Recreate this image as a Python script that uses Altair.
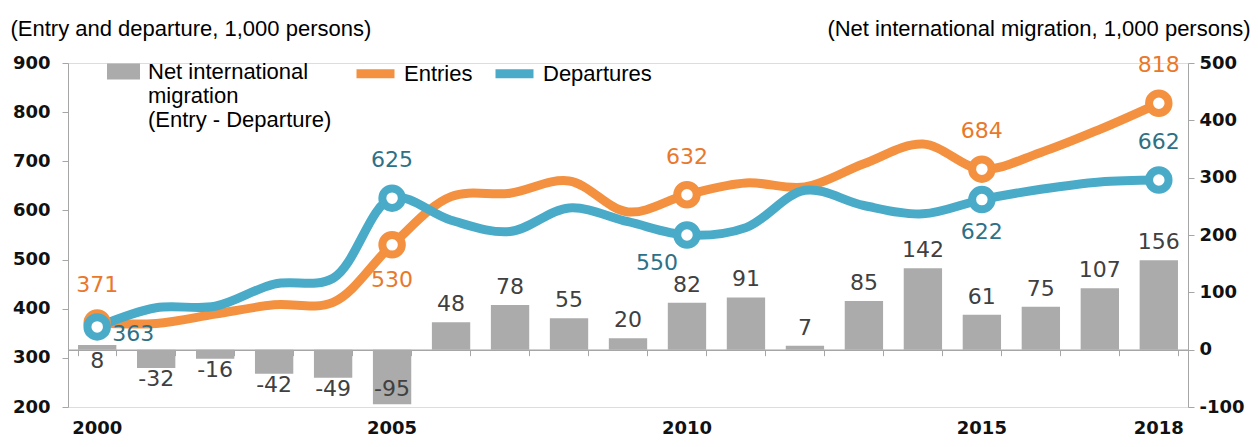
import altair as alt
import pandas as pd

# ---- data ----
years = list(range(2000, 2019))
net = [8, -32, -16, -42, -49, -95, 48, 78, 55, 20, 82, 91, 7, 85, 142, 61, 75, 107, 156]
entries = [371, 370, 389, 408, 413, 530, 628, 635, 660, 597, 632, 656, 648, 695, 735, 684, 718, 765, 818]
departures = [363, 402, 405, 450, 462, 625, 580, 557, 605, 577, 550, 565, 641, 610, 593, 622, 643, 658, 662]
marked_years = [2000, 2005, 2010, 2015, 2018]
axis_years = [2000, 2005, 2010, 2015, 2018]
series_names = ["Entries", "Departures"]
net_name = "Net international\nmigration\n(Entry - Departure)"

W, H = 1120, 344
ORANGE = "#F39140"
BLUE = "#4AABC8"
ORANGE_TXT = "#E9782A"
BLUE_TXT = "#2E7086"
GRAY_BAR = "#ABABAB"
AXIS_GRAY = "#A6A6A6"
TXT_FONT = "Liberation Sans"
NUM_FONT = "DejaVu Sans"

net_df = pd.DataFrame({"year": years, "net": net, "name": net_name,
                       "label": [str(v) for v in net]})
net_df["below"] = [(n < 0) or (y == 2000) for n, y in zip(net, years)]

long_rows = []
for s, vals in zip(series_names, [entries, departures]):
    for y, v in zip(years, vals):
        long_rows.append({"year": y, "series": s, "value": v, "label": str(v)})
line_df = pd.DataFrame(long_rows)

xscale = alt.Scale(paddingInner=0.35, paddingOuter=0.17)

# axis line drawn at the zero of the net-migration scale
zero_axis = alt.Axis(orient="bottom", offset=-(H - H * 500 / 600), title=None, labels=False,
                     ticks=True, tickBand="extent", tickExtra=False, tickSize=6,
                     tickColor=AXIS_GRAY,
                     domainColor=AXIS_GRAY, domainWidth=1.5, grid=False)
label_axis = alt.Axis(orient="bottom", title=None, values=axis_years, domain=False, ticks=False,
                      labelAngle=0, labelPadding=12, labelBaseline="top",
                      labelFont=NUM_FONT, labelFontWeight="bold", labelFontSize=18,
                      labelColor="#111111", grid=False)

x_zero = alt.X("year:O", scale=xscale, axis=zero_axis)
x_lab = alt.X("year:O", scale=xscale, axis=label_axis)

net_scale = alt.Scale(domain=[-100, 500], nice=False, zero=False)
right_axis = alt.Axis(orient="right", values=list(range(-100, 501, 100)), grid=False,
                      labelExpr="'' + datum.value",
                      title="(Net international migration, 1,000 persons)",
                      titleAngle=0, titleAlign="right", titleBaseline="middle",
                      titleX=62, titleY=-35, titleFont=TXT_FONT, titleFontSize=22,
                      titleFontWeight="normal", titleColor="#000000",
                      labelFont=NUM_FONT, labelFontWeight="bold", labelFontSize=18,
                      labelColor="#111111", labelPadding=5,
                      domainColor=AXIS_GRAY, tickColor=AXIS_GRAY, tickSize=6)

bars = alt.Chart(net_df).mark_bar(color=GRAY_BAR).encode(
    x=x_zero,
    y=alt.Y("net:Q", scale=net_scale, axis=right_axis),
    fill=alt.Fill("name:N", scale=alt.Scale(range=[GRAY_BAR]),
                  legend=alt.Legend(title=None, orient="none", legendX=39, legendY=-8,
                                    symbolType="M-1,-0.48H1V0.48H-1Z", symbolSize=1089,
                                    symbolStrokeWidth=0, labelOffset=8,
                                    labelFont=TXT_FONT, labelFontSize=22,
                                    labelColor="#000000", labelLimit=400,
                                    labelBaseline="middle", padding=0,
                                    labelExpr="split(datum.label, '\\n')")),
)

net_text = alt.Chart(net_df).transform_calculate(
    ypos="datum.below ? max(min(datum.net, 0), -50) : datum.net"
)
net_above = net_text.transform_filter("!datum.below").mark_text(
    baseline="bottom", dy=-6, font=NUM_FONT, fontSize=22, color="#404040"
).encode(x=x_zero, y=alt.Y("ypos:Q", scale=net_scale), text="label:N")
net_below = net_text.transform_filter("datum.below").mark_text(
    baseline="top", dy=1, font=NUM_FONT, fontSize=22, color="#404040"
).encode(x=x_zero, y=alt.Y("ypos:Q", scale=net_scale), text="label:N")

bar_group = alt.layer(bars, net_above, net_below)

val_scale = alt.Scale(domain=[200, 900], nice=False, zero=False)
left_axis = alt.Axis(orient="left", values=list(range(200, 901, 100)), grid=False,
                     title="(Entry and departure, 1,000 persons)",
                     titleAngle=0, titleAlign="left", titleBaseline="middle",
                     titleX=-58, titleY=-35, titleFont=TXT_FONT, titleFontSize=22,
                     titleFontWeight="normal", titleColor="#000000",
                     labelFont=NUM_FONT, labelFontWeight="bold", labelFontSize=18,
                     labelColor="#111111", labelPadding=12,
                     domainColor=AXIS_GRAY, tickColor=AXIS_GRAY, tickSize=6)
y_val = alt.Y("value:Q", scale=val_scale, axis=left_axis)
stroke_scale = alt.Scale(domain=series_names, range=[ORANGE, BLUE])

lines = alt.Chart(line_df).mark_line(interpolate="catmull-rom", strokeWidth=9,
                                     strokeCap="round", strokeJoin="round").encode(
    x=x_lab, y=y_val,
    stroke=alt.Stroke("series:N", scale=stroke_scale,
                      legend=alt.Legend(title=None, orient="none", legendX=284, legendY=-13,
                                        direction="horizontal", symbolType="stroke",
                                        symbolSize=1444, symbolStrokeWidth=9,
                                        labelOffset=5, columnPadding=4,
                                        labelFont=TXT_FONT, labelFontSize=22,
                                        labelColor="#000000", padding=0)),
    detail="series:N",
)

marked = alt.Chart(line_df).transform_filter(
    alt.FieldOneOfPredicate(field="year", oneOf=marked_years))

points = marked.mark_point(shape="circle", filled=False, fill="white", fillOpacity=1,
                           size=380, strokeWidth=8, opacity=1).encode(
    x=x_lab, y=y_val,
    stroke=alt.Stroke("series:N", scale=stroke_scale, legend=None),
)


def value_labels(series, yrs, color, dx, dy):
    return marked.transform_filter(alt.datum.series == series).transform_filter(
        alt.FieldOneOfPredicate(field="year", oneOf=yrs)
    ).mark_text(font=NUM_FONT, fontSize=22, color=color, baseline="middle",
                dx=dx, dy=dy).encode(x=x_lab, y=y_val, text="label:N")


txt_layers = [
    value_labels("Entries", [2000, 2010, 2015, 2018], ORANGE_TXT, 0, -38),
    value_labels("Entries", [2005], ORANGE_TXT, 0, 35),
    value_labels("Departures", [2005, 2018], BLUE_TXT, 0, -38),
    value_labels("Departures", [2015], BLUE_TXT, 0, 32),
    value_labels("Departures", [2010], BLUE_TXT, -30, 28),
    value_labels("Departures", [2000], BLUE_TXT, 36, 7),
]

line_group = alt.layer(lines, points, *txt_layers)

chart = alt.layer(bar_group, line_group).resolve_scale(
    y="independent"
).resolve_axis(
    x="independent", y="independent"
).properties(
    width=W, height=H, autosize="none",
    padding={"left": 60, "top": 55, "right": 62, "bottom": 32},
).configure_view(stroke=None).configure(background="white")

chart.save("out.html", embed_options={"renderer": "svg", "actions": False})
